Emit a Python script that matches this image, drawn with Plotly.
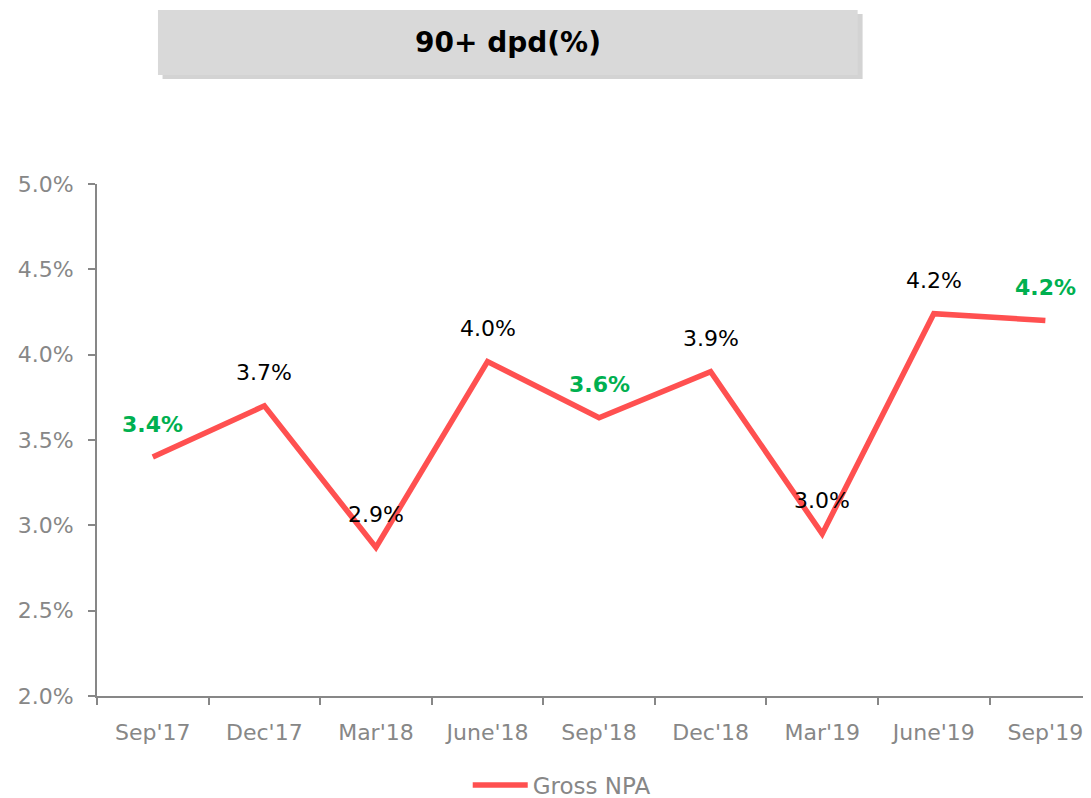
import plotly.graph_objects as go

# Datos del gráfico
quarters = ["Sep'17", "Dec'17", "Mar'18", "June'18", "Sep'18", "Dec'18", "Mar'19", "June'19", "Sep'19"]
gross_npa = [3.40, 3.70, 2.87, 3.96, 3.63, 3.90, 2.95, 4.24, 4.20]
labels = ["3.4%", "3.7%", "2.9%", "4.0%", "3.6%", "3.9%", "3.0%", "4.2%", "4.2%"]
highlight = [True, False, False, False, True, False, False, False, True]

FONT = "DejaVu Sans"
GRAY = "#878787"

fig = go.Figure()

fig.add_trace(go.Scatter(
    x=quarters,
    y=gross_npa,
    mode='lines',
    name='Gross NPA',
    line=dict(color='#FF5050', width=5.5),
))

# Etiquetas de datos
for q, v, t, h in zip(quarters, gross_npa, labels, highlight):
    fig.add_annotation(
        x=q, y=v, text=f"<b>{t}</b>" if h else t,
        showarrow=False, yshift=33, xanchor='center', yanchor='middle',
        font=dict(family=FONT, size=22, color='#00B050' if h else '#000000'),
    )

# Caja del título con sombra
fig.add_shape(type='rect', xref='paper', yref='paper',
              x0=0.066, x1=0.771, y0=1.205, y1=1.332,
              fillcolor='#C8C8C8', line=dict(width=0), opacity=0.8)
fig.add_shape(type='rect', xref='paper', yref='paper',
              x0=0.0614, x1=0.766, y0=1.213, y1=1.340,
              fillcolor='#D9D9D9', line=dict(width=0))
fig.add_annotation(xref='paper', yref='paper', x=0.4137, y=1.2765,
                   xanchor='center', yanchor='middle',
                   text="<b>90+ dpd(%)</b>", showarrow=False,
                   font=dict(family=FONT, size=28, color='#000000'))

fig.update_layout(
    width=1091, height=798,
    margin=dict(l=89, r=9, t=176, b=110, autoexpand=False),
    plot_bgcolor='white', paper_bgcolor='white',
    font=dict(family=FONT, size=22, color=GRAY),
    showlegend=True,
    legend=dict(orientation='h', x=0.468, xanchor='center', y=-0.174, yanchor='middle',
                font=dict(family=FONT, size=23, color=GRAY), itemwidth=55),
    xaxis=dict(
        range=[-0.5, 8.4], automargin=False, ticklabeloverflow='allow',
        showgrid=False, showline=True, linecolor=GRAY, linewidth=2,
        ticks='outside', tickson='boundaries', ticklen=7, tickcolor=GRAY, tickwidth=2,
        ticklabelstandoff=16,
        tickfont=dict(family=FONT, size=22, color=GRAY),
    ),
    yaxis=dict(
        range=[2.0, 5.0], dtick=0.5, tickformat='.1f', ticksuffix='%', automargin=False,
        showgrid=False, zeroline=False, showline=True, linecolor=GRAY, linewidth=2,
        ticks='outside', ticklen=7, tickcolor=GRAY, tickwidth=2,
        ticklabelstandoff=10,
        tickfont=dict(family=FONT, size=22, color=GRAY),
    ),
)

fig.write_html("out.html")
